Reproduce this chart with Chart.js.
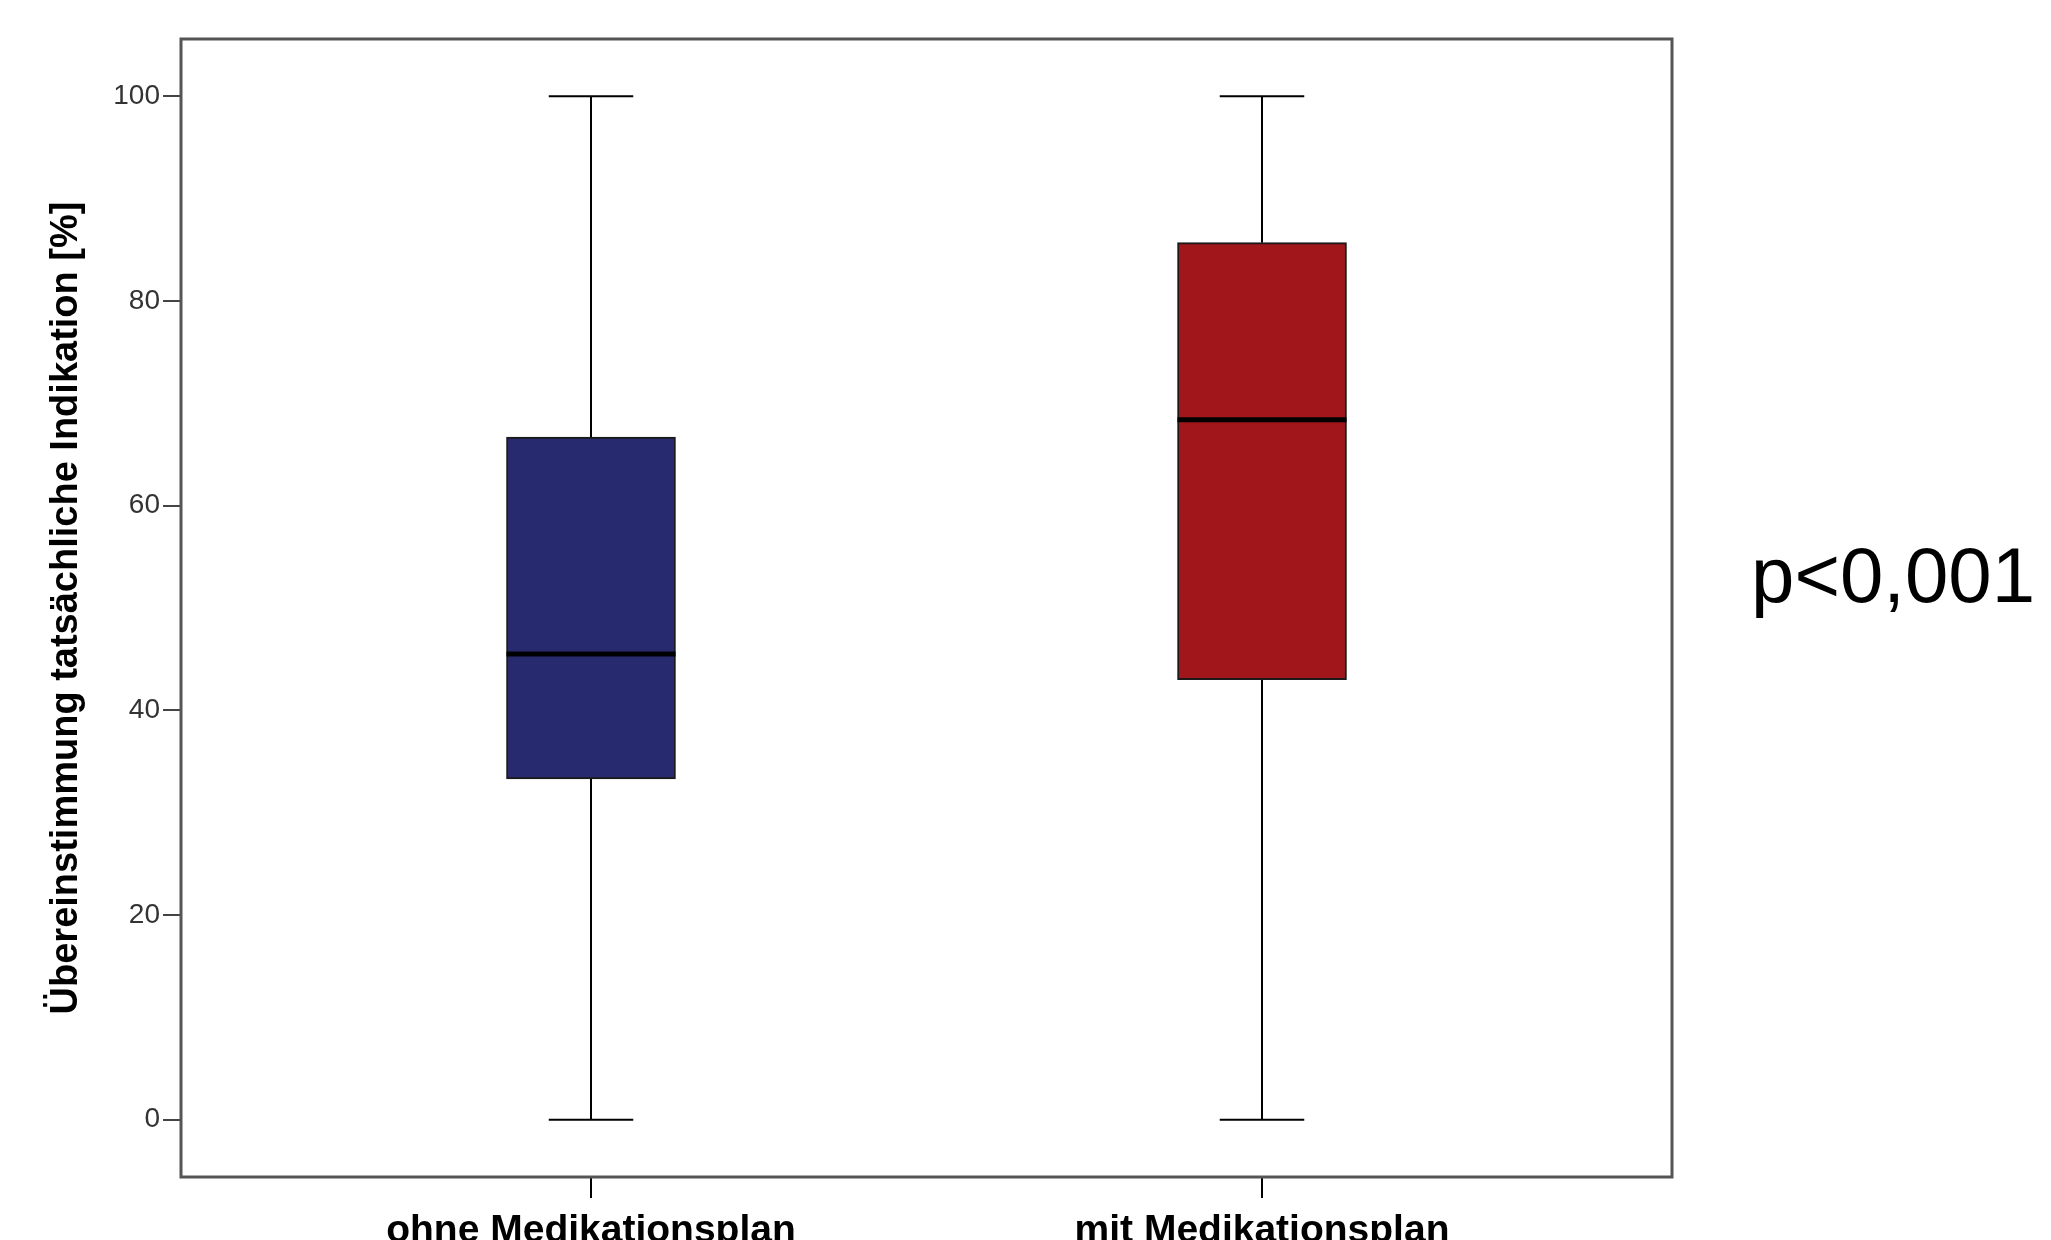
<!DOCTYPE html>
<html>
<head>
<meta charset="utf-8">
<script src="https://cdn.jsdelivr.net/npm/chart.js@4"></script>
<style>
    html, body { margin: 0; padding: 0; background: #fff; }
    #wrap { position: relative; width: 2051px; height: 1240px; }
    #pval {
        position: absolute; left: 1751px; top: 536px;
        font: 78px "Liberation Sans", Arial, sans-serif; line-height: 1; color: #000;
    }
</style>
</head>
<body>
<div id="wrap">
    <canvas id="myChart" width="2051" height="1240"></canvas>
    <div id="pval">p&lt;0,001</div>
</div>
<script>
// Daten
const categories = ['ohne Medikationsplan', 'mit Medikationsplan'];
const positions = [1, 2];
const minValues = [0, 0];
const q1Values = [33.3, 43.0];
const medianValues = [45.5, 68.4];
const q3Values = [66.7, 85.7];
const maxValues = [100, 100];
const yTicks = [0, 20, 40, 60, 80, 100];
const boxColors = ['#282a70', '#a0161a'];

const FONT = '"Liberation Sans", Arial, sans-serif';

// Whisker, Median und Rahmen
const boxplotLines = {
    id: 'boxplotLines',
    beforeDatasetsDraw(chart) {
        const { ctx, scales: { x, y } } = chart;
        const bars = chart.getDatasetMeta(0).data;
        ctx.save();
        ctx.strokeStyle = '#000';
        ctx.lineWidth = 2;
        positions.forEach((p, i) => {
            const cx = Math.round(x.getPixelForValue(p));
            const half = bars[i].width / 4;
            const yMax = y.getPixelForValue(maxValues[i]);
            const yMin = y.getPixelForValue(minValues[i]);
            ctx.beginPath();
            ctx.moveTo(cx, y.getPixelForValue(q3Values[i]));
            ctx.lineTo(cx, yMax);
            ctx.moveTo(cx, y.getPixelForValue(q1Values[i]));
            ctx.lineTo(cx, yMin);
            ctx.moveTo(cx - half, yMax);
            ctx.lineTo(cx + half, yMax);
            ctx.moveTo(cx - half, yMin);
            ctx.lineTo(cx + half, yMin);
            ctx.stroke();
        });
        ctx.restore();
    },
    afterDatasetsDraw(chart) {
        const { ctx, scales: { y } } = chart;
        const bars = chart.getDatasetMeta(0).data;
        ctx.save();
        ctx.strokeStyle = '#000';
        ctx.lineWidth = 5;
        bars.forEach((bar, i) => {
            const my = y.getPixelForValue(medianValues[i]);
            ctx.beginPath();
            ctx.moveTo(bar.x - bar.width / 2, my);
            ctx.lineTo(bar.x + bar.width / 2, my);
            ctx.stroke();
        });
        ctx.restore();
    },
    afterDraw(chart) {
        const { ctx, chartArea: a } = chart;
        ctx.save();
        ctx.strokeStyle = '#555';
        ctx.lineWidth = 3;
        ctx.strokeRect(a.left, a.top, a.right - a.left, a.bottom - a.top);
        ctx.restore();
    }
};

const ctx = document.getElementById('myChart').getContext('2d');
new Chart(ctx, {
    type: 'bar',
    data: {
        datasets: [{
            data: positions.map((p, i) => ({ x: p, y: [q1Values[i], q3Values[i]] })),
            backgroundColor: boxColors,
            borderColor: '#1a1a1a',
            borderWidth: 2,
            borderSkipped: false,
            barThickness: 169,
        }],
    },
    options: {
        responsive: false,
        animation: false,
        layout: { padding: { top: 39, right: 379, left: 0, bottom: 0 } },
        plugins: {
            legend: { display: false },
            tooltip: { enabled: false },
        },
        scales: {
            x: {
                type: 'linear',
                min: 0.389,
                max: 2.611,
                offset: false,
                afterBuildTicks: (s) => { s.ticks = positions.map(v => ({ value: v })); },
                afterFit: (s) => { s.height = 63; },
                grid: { offset: false, drawOnChartArea: false, tickLength: 21, color: '#000', lineWidth: 2 },
                border: { display: false },
                ticks: {
                    callback: (v, i) => categories[i],
                    font: { family: FONT, size: 39, weight: 'bold' },
                    color: '#000',
                    padding: 10,
                    maxRotation: 0,
                },
            },
            y: {
                min: -5.6,
                max: 105.6,
                afterBuildTicks: (s) => { s.ticks = yTicks.map(v => ({ value: v })); },
                afterFit: (s) => { s.width = 181; },
                grid: { drawOnChartArea: false, tickLength: 18, color: '#444', lineWidth: 2 },
                border: { display: false },
                ticks: {
                    font: { family: FONT, size: 28 },
                    color: '#333',
                    padding: 3,
                },
                title: {
                    display: true,
                    text: 'Übereinstimmung tatsächliche Indikation [%]',
                    font: { family: FONT, size: 38, weight: 'bold' },
                    color: '#000',
                    padding: { top: 44, bottom: 0 },
                },
            },
        },
    },
    plugins: [boxplotLines],
});
</script>
</body>
</html>
